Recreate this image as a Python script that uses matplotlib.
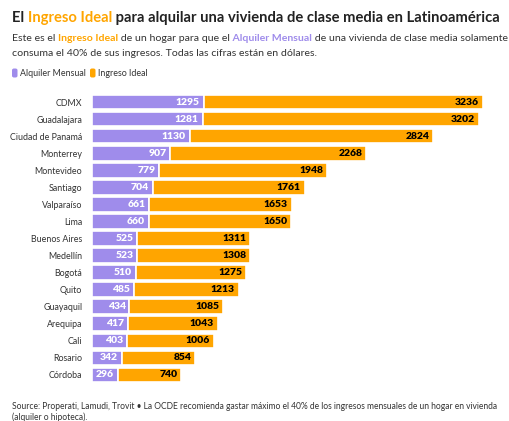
import matplotlib.pyplot as plt
import numpy as np
from matplotlib.patches import FancyBboxPatch

plt.rcParams['font.family'] = ['Lato', 'DejaVu Sans']

ciudades = ["CDMX", "Guadalajara", "Ciudad de Panamá", "Monterrey", "Montevideo",
            "Santiago", "Valparaíso", "Lima", "Buenos Aires", "Medellín", "Bogotá",
            "Quito", "Guayaquil", "Arequipa", "Cali", "Rosario", "Córdoba"]
alquiler = [1295, 1281, 1130, 907, 779, 704, 661, 660, 525, 523, 510, 485, 434, 417, 403, 342, 296]
ingreso = [3236, 3202, 2824, 2268, 1948, 1761, 1653, 1650, 1311, 1308, 1275, 1213, 1085, 1043, 1006, 854, 740]

PURPLE = "#9f8ceb"
ORANGE = "#ffa500"
TXT = "#333333"

W, H = 509, 421
fig = plt.figure(figsize=(W / 100, H / 100), dpi=100)
fig.patch.set_facecolor("white")

ax = fig.add_axes([92 / W, 1 - 383.5 / H, 398 / W, (383.5 - 93.5) / H])
y = np.arange(len(ciudades))
alq = np.array(alquiler)
ing = np.array(ingreso)
ax.barh(y, alq, height=0.86, color=PURPLE, edgecolor="white", linewidth=1.2)
ax.barh(y, ing, left=alq, height=0.86, color=ORANGE, edgecolor="white", linewidth=1.2)

total_max = (alq + ing).max()
ax.set_xlim(0, total_max * 398 / 391)
ax.set_ylim(len(ciudades) - 0.5, -0.5)
ax.set_yticks(y, ciudades, fontsize=6.4, color=TXT)
ax.tick_params(axis="y", length=0, pad=7)
ax.set_xticks([])
for s in ax.spines.values():
    s.set_visible(False)

for i in range(len(ciudades)):
    ax.text(alq[i] - 45, i, str(alq[i]), ha="right", va="center",
            color="white", fontsize=7.5, fontweight="heavy")
    ax.text(alq[i] + ing[i] - 45, i, str(ing[i]), ha="right", va="center",
            color="black", fontsize=7.5, fontweight="heavy")

renderer = fig.canvas.get_renderer()


def rich(x, yy, parts, **kw):
    for s, c, w in parts:
        t = fig.text(x, yy, s, color=c, fontweight=w, va="baseline", **kw)
        bb = t.get_window_extent(renderer)
        x = bb.x1 / W


rich(12 / W, 1 - 22 / H, [("El ", "#222222", "bold"), ("Ingreso Ideal", ORANGE, "bold"),
                          (" para alquilar una vivienda de clase media en Latinoamérica", "#222222", "bold")],
     fontsize=10.6)
rich(12 / W, 1 - 41 / H, [("Este es el ", TXT, "normal"), ("Ingreso Ideal", ORANGE, "bold"),
                          (" de un hogar para que el", TXT, "normal"),
                          (" Alquiler Mensual", PURPLE, "bold"),
                          (" de una vivienda de clase media solamente", TXT, "normal")],
     fontsize=7.55)
fig.text(12 / W, 1 - 56 / H, "consuma el 40% de sus ingresos. Todas las cifras están en dólares.",
         color=TXT, fontsize=7.55, va="baseline")

# leyenda
fig.patches.append(FancyBboxPatch((12 / W, 1 - 77.5 / H), 5.5 / W, 9 / H,
                                  boxstyle="round,pad=0,rounding_size=0.004",
                                  transform=fig.transFigure, facecolor=PURPLE, edgecolor="none"))
fig.text(20 / W, 1 - 76.5 / H, "Alquiler Mensual", color=TXT, fontsize=6.4, va="baseline")
fig.patches.append(FancyBboxPatch((90 / W, 1 - 77.5 / H), 5.5 / W, 9 / H,
                                  boxstyle="round,pad=0,rounding_size=0.004",
                                  transform=fig.transFigure, facecolor=ORANGE, edgecolor="none"))
fig.text(98 / W, 1 - 76.5 / H, "Ingreso Ideal", color=TXT, fontsize=6.4, va="baseline")

fig.text(12 / W, 1 - 409 / H,
         "Source: Properati, Lamudi, Trovit • La OCDE recomienda gastar máximo el 40% de los ingresos mensuales de un hogar en vivienda",
         color=TXT, fontsize=6.15, va="baseline")
fig.text(12 / W, 1 - 420 / H, "(alquiler o hipoteca).", color=TXT, fontsize=6.15, va="baseline")

fig.savefig("out.png", dpi=100)
